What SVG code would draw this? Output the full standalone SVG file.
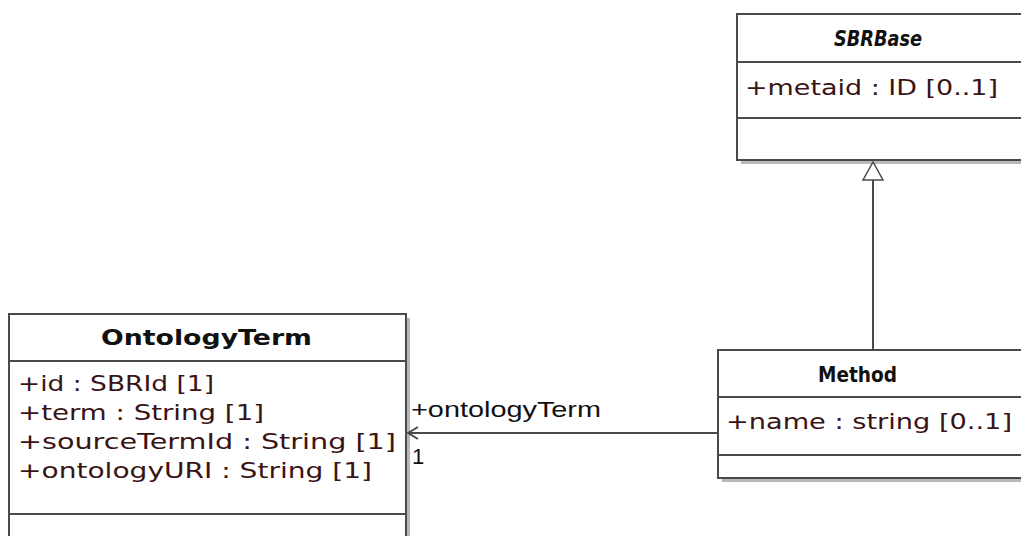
<svg xmlns="http://www.w3.org/2000/svg" width="1021" height="536" viewBox="0 0 1021 536">
<style>
.box{fill:#fff;stroke:#4a4a4a;stroke-width:2}
.shadow{fill:#b8b8b8}
.sep{stroke:#4a4a4a;stroke-width:2}
.title{font-family:"DejaVu Sans",sans-serif;font-size:21px;font-weight:bold;fill:#111}
.attr{font-family:"DejaVu Sans",sans-serif;font-size:22px;fill:#3a1414}
.lbl{font-family:"Liberation Sans",Arial,sans-serif;font-size:22px;fill:#111}
.conn{stroke:#4a4a4a;stroke-width:2;fill:none}
</style>
<rect width="1021" height="536" fill="#fff"/>
<g id="SBRBase">
<rect class="shadow" x="741" y="18" width="290" height="146"/>
<rect class="box" x="737" y="14" width="290" height="146"/>
<line class="sep" x1="737" y1="62" x2="1027" y2="62"/>
<line class="sep" x1="737" y1="118" x2="1027" y2="118"/>
<text class="title" x="834" y="46" font-style="italic" textLength="88" lengthAdjust="spacingAndGlyphs">SBRBase</text>
<text class="attr" x="745" y="95" textLength="253" lengthAdjust="spacingAndGlyphs">+metaid : ID [0..1]</text>
</g>
<g id="OntologyTerm">
<rect class="shadow" x="13" y="318" width="397" height="230"/>
<rect class="box" x="9" y="314" width="397" height="230"/>
<line class="sep" x1="9" y1="361" x2="406" y2="361"/>
<line class="sep" x1="9" y1="514" x2="406" y2="514"/>
<text class="title" x="101" y="345" textLength="211" lengthAdjust="spacingAndGlyphs">OntologyTerm</text>
<text class="attr" x="18" y="391" textLength="196" lengthAdjust="spacingAndGlyphs">+id : SBRId [1]</text>
<text class="attr" x="18" y="420" textLength="246" lengthAdjust="spacingAndGlyphs">+term : String [1]</text>
<text class="attr" x="18" y="449" textLength="378" lengthAdjust="spacingAndGlyphs">+sourceTermId : String [1]</text>
<text class="attr" x="18" y="478" textLength="354" lengthAdjust="spacingAndGlyphs">+ontologyURI : String [1]</text>
</g>
<g id="Method">
<rect class="shadow" x="722" y="354" width="310" height="128"/>
<rect class="box" x="718" y="350" width="310" height="128"/>
<line class="sep" x1="718" y1="397" x2="1028" y2="397"/>
<line class="sep" x1="718" y1="455" x2="1028" y2="455"/>
<text class="title" x="818" y="382" textLength="79" lengthAdjust="spacingAndGlyphs">Method</text>
<text class="attr" x="726" y="429" textLength="286" lengthAdjust="spacingAndGlyphs">+name : string [0..1]</text>
</g>
<g id="connectors">
<line class="conn" x1="873" y1="350" x2="873" y2="180"/>
<polygon points="873,162 863,180 883,180" fill="#fff" stroke="#4a4a4a" stroke-width="1.5"/>
<line class="conn" x1="718" y1="433" x2="408" y2="433"/>
<polyline class="conn" points="418,427 408,433 418,439" stroke-width="1.2"/>
<text class="lbl" x="411" y="417" textLength="190" lengthAdjust="spacingAndGlyphs">+ontologyTerm</text>
<text class="lbl" x="412" y="464">1</text>
</g>
</svg>
